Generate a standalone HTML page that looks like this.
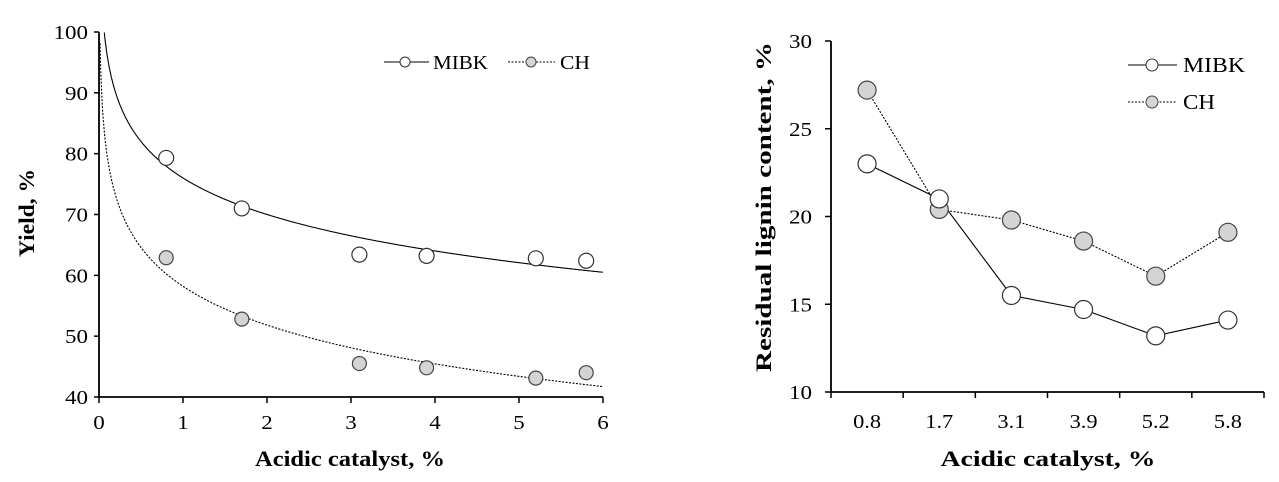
<!DOCTYPE html>
<html><head><meta charset="utf-8"><style>
body{margin:0;background:#fff;}
svg{display:block;font-family:"Liberation Serif",serif;}
</style></head><body>
<svg id="c" width="1279" height="482"></svg>
<script>
const leftX=[0.8,1.7,3.1,3.9,5.2,5.8];
const leftMIBK=[79.3,71.0,63.4,63.2,62.8,62.4];
const leftCH=[62.9,52.8,45.5,44.8,43.1,44.0];
const fitMIBK=[76.0,-8.65];
const fitCH=[58.2,-9.2];
const leftXTicks=[0,1,2,3,4,5,6];
const leftYTicks=[40,50,60,70,80,90,100];
const rightCats=["0.8","1.7","3.1","3.9","5.2","5.8"];
const rightMIBK=[23.0,21.0,15.5,14.7,13.2,14.1];
const rightCH=[27.2,20.4,19.8,18.6,16.6,19.1];
const rightYTicks=[10,15,20,25,30];

const svg=document.getElementById('c');
const NS='http://www.w3.org/2000/svg';
function mk(t,a,txt){const e=document.createElementNS(NS,t);for(const k in a)e.setAttribute(k,a[k]);if(txt!==undefined)e.textContent=txt;svg.appendChild(e);return e;}
function tl(s){return String(s).split('').reduce((a,c)=>a+(c==='.'?5:11.5),0);}

// left
const lx=v=>99+v*(603-99)/6, ly=v=>397-(v-40)*(397-32)/60;
let e;
e=mk('line',{x1:99,y1:32,x2:99,y2:397,stroke:'#000','stroke-width':1.8});

e=mk('line',{x1:99,y1:397,x2:603,y2:397,stroke:'#000','stroke-width':1.8});

leftYTicks.forEach(v=>{mk('line',{x1:94,y1:ly(v),x2:99,y2:ly(v),stroke:'#000','stroke-width':1.5});
 e=mk('text',{x:88,y:ly(v)+7,'text-anchor':'end','font-size':20,textLength:tl(v),lengthAdjust:'spacingAndGlyphs'},v);
 });
leftXTicks.forEach(v=>{mk('line',{x1:lx(v),y1:397,x2:lx(v),y2:403,stroke:'#000','stroke-width':1.5});
 e=mk('text',{x:lx(v),y:429,'text-anchor':'middle','font-size':20,textLength:tl(v),lengthAdjust:'spacingAndGlyphs'},v);
 });
function curve(f,dash,name){let d='';let first=true;
 for(let x=0.003;x<=6.0001;x+=0.005){let y=f[0]+f[1]*Math.log(x);if(y>100)continue;d+=(first?'M':'L')+lx(x).toFixed(1)+','+ly(y).toFixed(1);first=false;}
 e=mk('path',{d:d,fill:'none',stroke:'#000','stroke-width':1.1,'stroke-dasharray':dash});
 }
curve(fitMIBK,'none','mibk-fit-curve');curve(fitCH,'2,1.5','ch-fit-curve');
leftX.forEach((x,i)=>{e=mk('circle',{cx:lx(x),cy:ly(leftMIBK[i]),r:7.5,fill:'#fff',stroke:'#333','stroke-width':1.2});
 
 e=mk('circle',{cx:lx(x),cy:ly(leftCH[i]),r:7,fill:'#d4d4d4',stroke:'#444','stroke-width':1.2});
 });
e=mk('text',{x:350,y:466,'text-anchor':'middle','font-size':22,'font-weight':'bold',textLength:190,lengthAdjust:'spacingAndGlyphs'},'Acidic catalyst, %');

e=mk('text',{x:0,y:0,'text-anchor':'middle','font-size':22,'font-weight':'bold',textLength:88,lengthAdjust:'spacingAndGlyphs',transform:'translate(34,213) rotate(-90)'},'Yield, %');

mk('line',{x1:384,y1:62,x2:429,y2:62,stroke:'#000'});
mk('circle',{cx:405,cy:62,r:5,fill:'#fff',stroke:'#333'});
e=mk('text',{x:433,y:69,'font-size':20,textLength:55,lengthAdjust:'spacingAndGlyphs'},'MIBK');
mk('line',{x1:508,y1:62,x2:555,y2:62,stroke:'#000','stroke-dasharray':'2,1.5'});
mk('circle',{cx:531,cy:62,r:5,fill:'#d4d4d4',stroke:'#444'});
e=mk('text',{x:560,y:69,'font-size':20,textLength:30,lengthAdjust:'spacingAndGlyphs'},'CH');

// right
const rx0=831,rx1=1264,bw=(rx1-rx0)/rightCats.length;
const rx=i=>rx0+bw*(i+0.5), ry=v=>392-(v-10)*(392-41)/20;
e=mk('line',{x1:rx0,y1:41,x2:rx0,y2:392,stroke:'#000','stroke-width':1.8});

e=mk('line',{x1:rx0,y1:392,x2:rx1,y2:392,stroke:'#000','stroke-width':1.8});

rightYTicks.forEach(v=>{mk('line',{x1:825,y1:ry(v),x2:rx0,y2:ry(v),stroke:'#000','stroke-width':1.5});
 e=mk('text',{x:812,y:ry(v)+7,'text-anchor':'end','font-size':20,textLength:tl(v),lengthAdjust:'spacingAndGlyphs'},v);
 });
for(let i=0;i<=rightCats.length;i++)mk('line',{x1:rx0+bw*i,y1:392,x2:rx0+bw*i,y2:398,stroke:'#000','stroke-width':1.5});
rightCats.forEach((c,i)=>{e=mk('text',{x:rx(i),y:428,'text-anchor':'middle','font-size':20,textLength:tl(c),lengthAdjust:'spacingAndGlyphs'},c);
 });
function poly(vals,dash,name){e=mk('polyline',{points:vals.map((v,i)=>rx(i)+','+ry(v)).join(' '),fill:'none',stroke:'#000','stroke-width':1.1,'stroke-dasharray':dash});
 }
poly(rightMIBK,'none','mibk-line');poly(rightCH,'2,1.5','ch-line');
rightCH.forEach((v,i)=>{e=mk('circle',{cx:rx(i),cy:ry(v),r:9,fill:'#d4d4d4',stroke:'#444','stroke-width':1.2});
 });
rightMIBK.forEach((v,i)=>{e=mk('circle',{cx:rx(i),cy:ry(v),r:9,fill:'#fff',stroke:'#333','stroke-width':1.2});
 });
e=mk('text',{x:1048,y:466,'text-anchor':'middle','font-size':22,'font-weight':'bold',textLength:215,lengthAdjust:'spacingAndGlyphs'},'Acidic catalyst, %');

e=mk('text',{x:0,y:0,'text-anchor':'middle','font-size':22,'font-weight':'bold',textLength:330,lengthAdjust:'spacingAndGlyphs',transform:'translate(771,207) rotate(-90)'},'Residual lignin content, %');

mk('line',{x1:1128,y1:65,x2:1177,y2:65,stroke:'#000'});
mk('circle',{cx:1152,cy:65,r:6,fill:'#fff',stroke:'#333'});
e=mk('text',{x:1183,y:72,'font-size':21,textLength:62,lengthAdjust:'spacingAndGlyphs'},'MIBK');
mk('line',{x1:1128,y1:102,x2:1177,y2:102,stroke:'#000','stroke-dasharray':'2,1.5'});
mk('circle',{cx:1152,cy:102,r:6,fill:'#d4d4d4',stroke:'#444'});
e=mk('text',{x:1183,y:109,'font-size':21,textLength:32,lengthAdjust:'spacingAndGlyphs'},'CH');
</script>
</body></html>
